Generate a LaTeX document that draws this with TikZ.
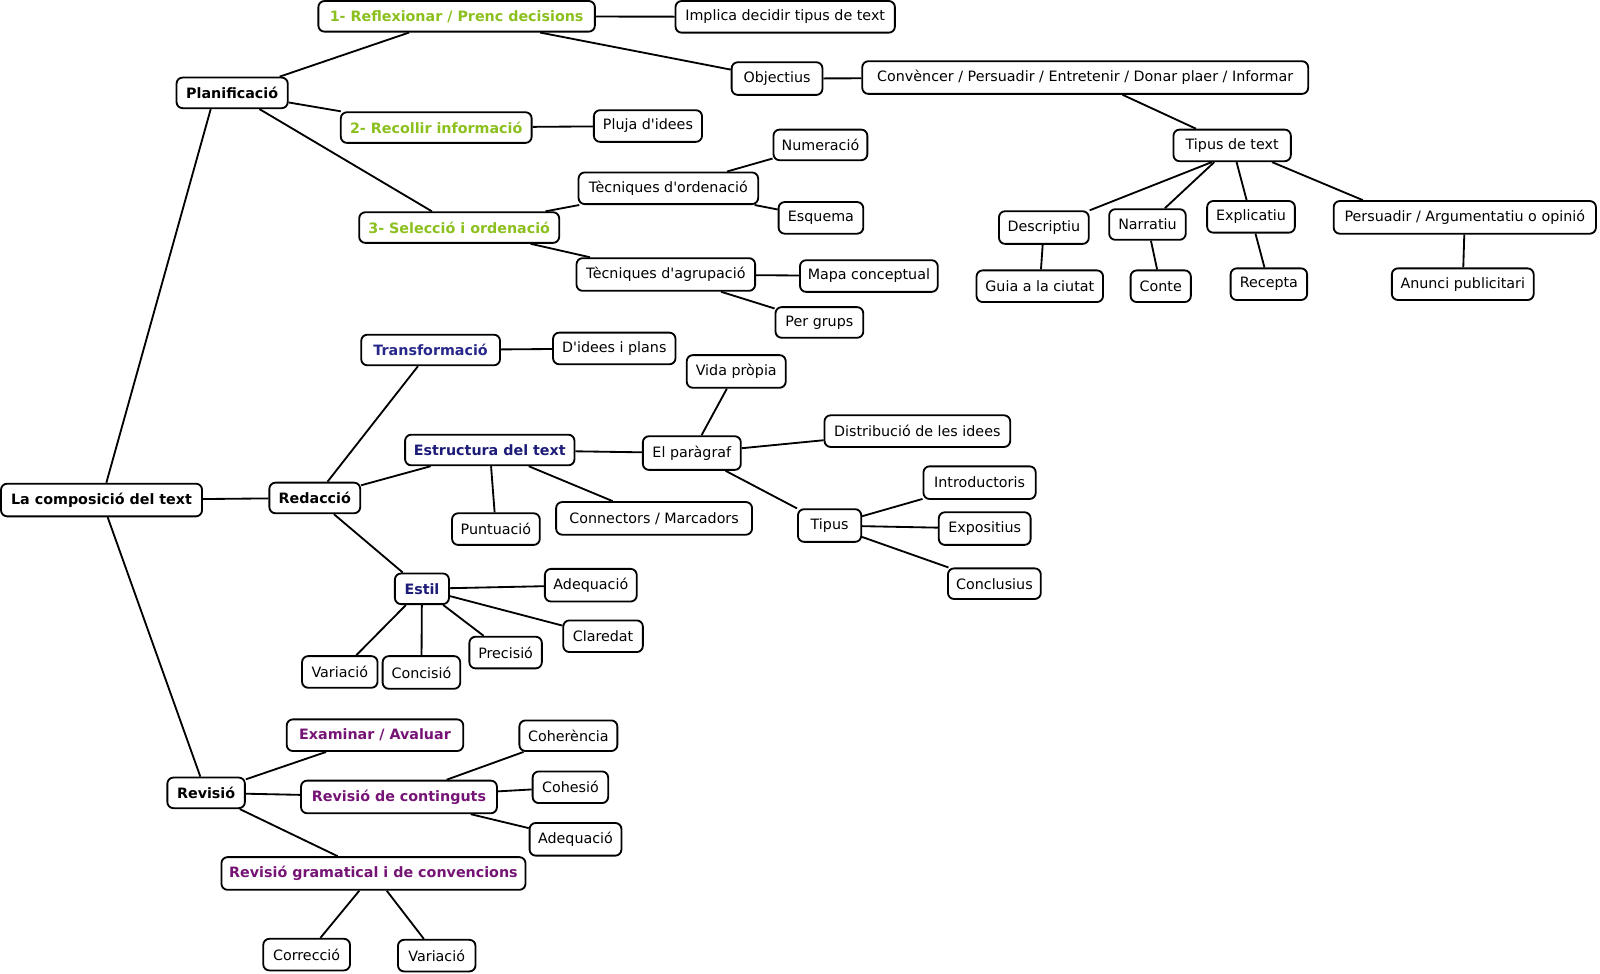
\documentclass[tikz,border=0pt]{standalone}
\usepackage{fontspec}
\setmainfont{DejaVu Sans}
\definecolor{grn}{RGB}{140,192,30}
\definecolor{nvy}{RGB}{28,28,120}
\definecolor{nvyb}{RGB}{40,40,140}
\definecolor{prp}{RGB}{118,20,118}
\begin{document}
\begin{tikzpicture}[x=1pt,y=-1pt,
  plainbox/.style={draw, line width=1.8pt, rounded corners=6pt, fill=white, inner sep=0pt,
    minimum height=31pt, font=\fontsize{14}{16}\selectfont},
  boldbox/.style={plainbox, font=\fontsize{14}{16}\selectfont\bfseries},
  greenbox/.style={boldbox, text=grn},
  navybox/.style={boldbox, text=nvy},
  purplebox/.style={boldbox, text=prp},
  wh/.style 2 args={minimum width=#1, minimum height=#2},
  link/.style={line width=1.8pt}]
\useasboundingbox (0,0) rectangle (1568,954);

% main branches
\node[boldbox, wh={197}{32}] (root) at (99.5,490) {La composició del text};
\node[boldbox, wh={109}{30}] (plan) at (227.5,91) {Planificació};
\node[boldbox, wh={89}{30}] (red) at (308.5,488) {Redacció};
\node[boldbox, wh={76}{30}] (rev) at (202,777) {Revisió};

% Planificacio
\node[greenbox, wh={271}{30}] (reflex) at (447.5,16) {1- Reflexionar / Prenc decisions};
\node[plainbox, wh={215}{31}] (impl) at (769.5,16.5) {Implica decidir tipus de text};
\node[plainbox, wh={89}{32}] (obj) at (761.5,77) {Objectius};
\node[plainbox, wh={437}{32}] (conv) at (1063.5,76) {Convèncer / Persuadir / Entretenir / Donar plaer / Informar};
\node[plainbox, wh={115}{31}] (tt) at (1207.5,142.5) {Tipus de text};
\node[plainbox, wh={88}{32}] (desc) at (1023,223) {Descriptiu};
\node[plainbox, wh={75}{30}] (narr) at (1124.5,220) {Narratiu};
\node[plainbox, wh={86}{31}] (expl) at (1226,212.5) {Explicatiu};
\node[plainbox, wh={257}{32}] (pers) at (1435.5,213) {Persuadir / Argumentatiu o opinió};
\node[plainbox, wh={124}{31}] (guia) at (1019,280.5) {Guia a la ciutat};
\node[plainbox, wh={59}{31}] (conte) at (1137.5,280.5) {Conte};
\node[plainbox, wh={75}{31}] (recep) at (1243.5,278.5) {Recepta};
\node[plainbox, wh={139}{31}] (anunci) at (1433.5,278.5) {Anunci publicitari};
\node[greenbox, wh={187}{30}] (recol) at (427.5,125) {2- Recollir informació};
\node[plainbox, wh={106}{31}] (pluja) at (635,123.5) {Pluja d\textquotesingle idees};
\node[greenbox, wh={196}{30}] (selec) at (450,223) {3- Selecció i ordenació};
\node[plainbox, wh={176}{31}] (orden) at (655,184.5) {Tècniques d\textquotesingle ordenació};
\node[plainbox, wh={92}{30}] (numer) at (804,142) {Numeració};
\node[plainbox, wh={83}{31}] (esq) at (804.5,213.5) {Esquema};
\node[plainbox, wh={175}{32}] (agrup) at (652.5,269) {Tècniques d\textquotesingle agrupació};
\node[plainbox, wh={135}{31}] (mapa) at (851.5,270.5) {Mapa conceptual};
\node[plainbox, wh={86}{30}] (grups) at (803,316) {Per grups};

% Redaccio
\node[navybox, text=nvyb, wh={136}{30}] (trans) at (422,343) {Transformació};
\node[plainbox, wh={120}{31}] (didees) at (602,341.5) {D\textquotesingle idees i plans};
\node[navybox, wh={166}{30}] (estr) at (480,441) {Estructura del text};
\node[plainbox, wh={96}{33}] (parag) at (678,444) {El paràgraf};
\node[plainbox, wh={97}{32}] (vida) at (721.5,364) {Vida pròpia};
\node[plainbox, wh={182}{31}] (distr) at (899,422.5) {Distribució de les idees};
\node[plainbox, wh={62}{32}] (tipus) at (813,515) {Tipus};
\node[plainbox, wh={110}{32}] (intro) at (960,473) {Introductoris};
\node[plainbox, wh={90}{32}] (expos) at (965,518) {Expositius};
\node[plainbox, wh={91}{30}] (concl) at (974.5,572) {Conclusius};
\node[plainbox, wh={86}{31}] (punt) at (486,518.5) {Puntuació};
\node[plainbox, wh={192}{32}] (conn) at (641,508) {Connectors / Marcadors};
\node[navybox, wh={53}{30}] (estil) at (413.5,577) {Estil};
\node[plainbox, wh={90}{32}] (adeqa) at (579,573.5) {Adequació};
\node[plainbox, wh={78}{31}] (clar) at (591,623.5) {Claredat};
\node[plainbox, wh={71}{31}] (prec) at (495.5,639.5) {Precisió};
\node[plainbox, wh={76}{32}] (conc) at (413,659) {Concisió};
\node[plainbox, wh={74}{31}] (vara) at (333,658.5) {Variació};

% Revisio
\node[purplebox, wh={173}{31}] (exam) at (367.5,720.5) {Examinar / Avaluar};
\node[purplebox, wh={192}{32}] (revc) at (391,781) {Revisió de continguts};
\node[plainbox, wh={96}{30}] (coher) at (557,721) {Coherència};
\node[plainbox, wh={74}{31}] (cohes) at (559,771.5) {Cohesió};
\node[plainbox, wh={90}{32}] (adeqb) at (564,822.5) {Adequació};
\node[purplebox, wh={298}{32}] (revg) at (366,856) {Revisió gramatical i de convencions};
\node[plainbox, wh={85}{31}] (corr) at (300.5,935.5) {Correcció};
\node[plainbox, wh={76}{31}] (varb) at (428,936.5) {Variació};

% connectors
\draw[link] (root) -- ([xshift=-21pt]plan.south);
\draw[link] (root) -- (red);
\draw[link] (root) -- (rev);
\draw[link] (plan) -- (reflex);
\draw[link] (plan) -- (recol);
\draw[link] (plan) -- (selec);
\draw[link] (reflex) -- (impl);
\draw[link] (reflex) -- (obj);
\draw[link] (obj) -- (conv);
\draw[link] (conv) -- (tt);
\draw[link] ([xshift=-20pt]tt.south) -- (desc.north east);
\draw[link] (tt) -- (narr);
\draw[link] (tt) -- (expl);
\draw[link] (tt) -- ([xshift=-100pt]pers.north);
\draw[link] (desc) -- (guia);
\draw[link] (narr) -- (conte);
\draw[link] (expl) -- (recep);
\draw[link] (pers) -- (anunci);
\draw[link] (recol) -- (pluja);
\draw[link] (selec) -- (orden);
\draw[link] (orden) -- (numer);
\draw[link] (orden) -- (esq);
\draw[link] (selec) -- (agrup);
\draw[link] (agrup) -- (mapa);
\draw[link] (agrup) -- (grups);

\draw[link] (red) -- (trans);
\draw[link] (trans) -- (didees);
\draw[link] (red) -- (estr);
\draw[link] (estr) -- (parag);
\draw[link] (estr) -- (punt);
\draw[link] (estr) -- (conn);
\draw[link] (parag) -- (vida);
\draw[link] (parag) -- (distr);
\draw[link] (parag) -- (tipus);
\draw[link] (tipus) -- (intro);
\draw[link] (tipus) -- (expos);
\draw[link] (tipus) -- (concl);
\draw[link] (red) -- (estil);
\draw[link] (estil) -- (adeqa);
\draw[link] (estil) -- (clar);
\draw[link] (estil) -- (prec);
\draw[link] (estil) -- (conc);
\draw[link] (estil) -- (vara);

\draw[link] (rev) -- (exam);
\draw[link] (rev) -- (revc);
\draw[link] (rev) -- (revg);
\draw[link] (revc) -- (coher);
\draw[link] (revc) -- (cohes);
\draw[link] (revc) -- (adeqb);
\draw[link] (revg) -- (corr);
\draw[link] (revg) -- (varb);
\end{tikzpicture}
\end{document}
